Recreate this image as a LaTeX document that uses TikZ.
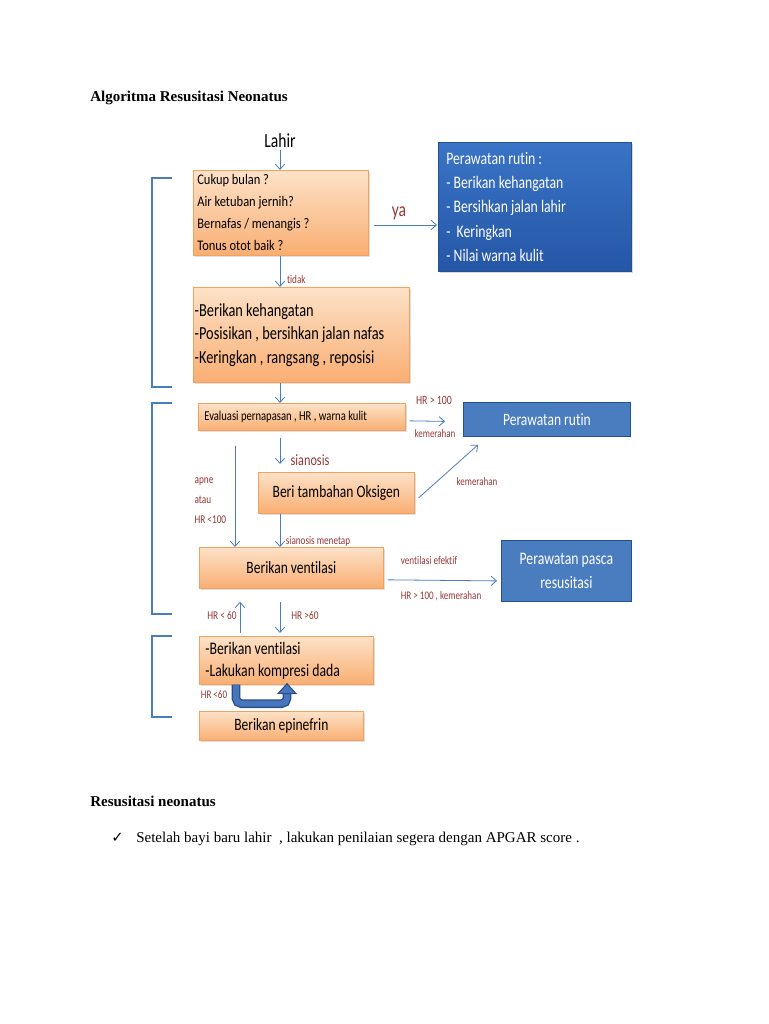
\documentclass[tikz,border=0pt]{standalone}
\usepackage{fontspec}
\setmainfont{Carlito}
\newfontfamily\cf[FakeStretch=0.78,RawFeature={-liga}]{Carlito}
\newfontfamily\cfb[FakeStretch=0.85,RawFeature={-liga}]{Carlito}
\newfontfamily\tnr{Liberation Serif}
\newfontfamily\dvs{DejaVu Sans}
\usetikzlibrary{arrows.meta,shadows,calc}
\definecolor{otop}{HTML}{FDE2C8}
\definecolor{obot}{HTML}{F9AE72}
\definecolor{obord}{HTML}{F5A05C}
\definecolor{btop}{HTML}{3A74C6}
\definecolor{bbot}{HTML}{2556A6}
\definecolor{bbord}{HTML}{24518F}
\definecolor{bfill}{HTML}{4A7CC0}
\definecolor{lred}{HTML}{953735}
\definecolor{ablue}{HTML}{4A7EBB}
\definecolor{udark}{HTML}{2A4F86}
\definecolor{ulight}{HTML}{4576BE}
\newcommand\fsz[2]{\fontsize{#1}{#2}\selectfont}
\newcommand\natsp{\spaceskip=0pt\xspaceskip=0pt\relax}
\begin{document}
\begin{tikzpicture}[x=0.75pt,y=-0.75pt,
  obox/.style={draw=obord, line width=0.5pt, top color=otop, bottom color=obot, inner ysep=0pt,
     drop shadow={opacity=0.25, shadow xshift=1.2pt, shadow yshift=-1.5pt}, anchor=north west, text=black},
  bigblue/.style={draw=bbord, line width=0.5pt, top color=btop, bottom color=bbot, text=white, anchor=north west,
     drop shadow={opacity=0.3, shadow xshift=1.2pt, shadow yshift=-1.5pt}},
  flatblue/.style={draw=bbord, line width=0.6pt, fill=bfill, text=white, anchor=north west},
  arr/.style={draw=ablue, line width=0.6pt, -{Straight Barb[length=4pt,width=7pt]}},
  lbl/.style={text=lred, inner sep=1pt},
  brk/.style={draw=ablue, line width=0.9pt}]
\path[use as bounding box] (0,0) rectangle (768,1024);

% page texts
\node[anchor=base west, inner sep=0, font=\tnr\bfseries\fsz{11.25}{13}] (title) at (90,101) {Algoritma Resusitasi Neonatus};
\node[anchor=base west, inner sep=0, font=\tnr\bfseries\fsz{11.25}{13}] (sub) at (90,806) {Resusitasi neonatus};
\node[anchor=base west, inner sep=0, font=\dvs\fsz{11}{13}] (chk) at (111,842) {✓};
\node[anchor=base west, inner sep=0, font=\tnr\fsz{11.25}{13}] (sent) at (136,842) {Setelah bayi baru lahir~ , lakukan penilaian segera dengan APGAR score .};

% diagram nodes
\node[font=\cf\fsz{15}{18}, inner sep=1pt] (L) at (280,141) {Lahir};
\node[obox, font=\cfb\fsz{11}{16.5}, text width=125.25pt, minimum height=0.75*85pt, align=left, inner xsep=3pt] (b1) at (193,170)
  {\natsp Cukup bulan ?\\Air ketuban jernih?\\Bernafas / menangis ?\\Tonus otot baik ?};
\node[bigblue, font=\cf\fsz{13.2}{18.2}, text width=132.75pt, minimum height=0.75*129pt, align=left, inner xsep=6pt] (bb1) at (438,142)
  {\natsp Perawatan rutin :\\- Berikan kehangatan\\- Bersihkan jalan lahir\\-~ Keringkan\\- Nilai warna kulit};
\node[obox, font=\cf\fsz{13.8}{17.6}, text width=159.75pt, minimum height=0.75*95pt, align=left, inner xsep=1pt] (b2) at (193,287)
  {\natsp -Berikan kehangatan\\-Posisikan , bersihkan jalan nafas\\-Keringkan , rangsang , reposisi};
\node[obox, font=\cf\fsz{10.2}{11}, text width=146.25pt, minimum height=0.75*27pt, align=left, inner xsep=4.5pt] (b3) at (198,403)
  {\natsp Evaluasi pernapasan , HR , warna kulit};
\node[flatblue, font=\cf\fsz{13}{15}, minimum width=0.75*167pt, minimum height=0.75*34pt] (rutin) at (463,402) {Perawatan rutin};
\node[obox, font=\cf\fsz{13}{15}, minimum width=0.75*156pt, minimum height=0.75*41pt] (b4) at (258,472) {Beri tambahan Oksigen};
\node[obox, font=\cf\fsz{13}{15}, minimum width=0.75*184pt, minimum height=0.75*41pt] (b5) at (199,547) {Berikan ventilasi};
\node[flatblue, font=\cf\fsz{13.2}{18}, minimum width=0.75*130pt, minimum height=0.75*61pt, align=center] (pasca) at (501,540) {Perawatan pasca\\resusitasi};
\node[obox, font=\cf\fsz{13.2}{16.5}, text width=121.5pt, minimum height=0.75*48pt, align=left, inner xsep=4.5pt] (b6) at (199,636)
  {\natsp -Berikan ventilasi\\-Lakukan kompresi dada};
\node[obox, font=\cf\fsz{13}{15}, minimum width=0.75*164pt, minimum height=0.75*29pt] (b7) at (199,711) {Berikan epinefrin};

% column coordinate
\coordinate (cx) at (280,0);

% connectors
\draw[arr] (L.south) -- (L.south |- b1.north);
\draw[arr] ($(b1.north east)+(5,55)$) -- node[lbl, pos=0.4, above=3pt, font=\cf\fsz{15}{17}] (ya) {ya} ($(bb1.north west)+(-1,83)$);
\draw[arr] (cx |- b1.south) -- node[lbl, pos=0.75, right=4pt, font=\cf\fsz{8.8}{10}] (tidak) {tidak} (cx |- b2.north);
\draw[arr] (cx |- b2.south) -- (cx |- b3.north);
\draw[arr] ($(b3.east)+(4,4)$) -- ($(rutin.west)+(-18,2)$);
\node[lbl, font=\cf\fsz{9.5}{11}] (hr100) at (434,400) {HR > 100};
\node[lbl, font=\cf\fsz{8.6}{10}] (kem1) at (435,434) {kemerahan};
\draw[arr] ($(cx |- b3.south)+(0,7)$) -- ($(cx |- b4.north)+(0,-8)$);
\node[lbl, font=\cf\fsz{11.8}{13}] (sian) at (310,460) {sianosis};
\draw[arr] ($(b4.east)+(4,5)$) -- ($(rutin.south west)+(15,8)$);
\node[lbl, font=\cf\fsz{8.6}{10}] (kem2) at (477,482) {kemerahan};
\draw[arr] ($(b3.south west)+(37,15)$) -- ($(b5.north west)+(36,0)$);
\node[lbl, anchor=west, align=left, font=\cf\fsz{8.9}{15}] (apne) at (193,501) {apne\\atau\\HR <100};
\draw[arr] (cx |- b4.south) -- (cx |- b5.north);
\node[lbl, font=\cf\fsz{8.8}{10}] (smen) at (318,541) {sianosis menetap};
\draw[arr] ($(b5.east)+(4,12)$) -- ($(pasca.west)+(-4,10)$);
\node[lbl, font=\cf\fsz{8.8}{10}] (vef) at (429,560) {ventilasi efektif};
\node[lbl, font=\cf\fsz{8.7}{10}] (hrk) at (441,596) {HR > 100 , kemerahan};
\draw[arr] ($(b6.north west)+(41,-3)$) -- ($(b5.south west)+(41,13)$);
\node[lbl, font=\cf\fsz{9}{10}] (hr60a) at (222,615) {HR < 60};
\draw[arr] ($(cx |- b5.south)+(0,13)$) -- ($(cx |- b6.north)+(0,-3)$);
\node[lbl, font=\cf\fsz{9}{10}] (hr60b) at (305,615) {HR >60};

% thick U arrow
\coordinate (ua) at ($(b6.south west)+(37,0)$);
\coordinate (ub) at ($(b6.south west)+(88,3)$);
\draw[udark, line width=6.5pt, rounded corners=4pt] (ua) -- ($(ua)+(0,19)$) -- ($(ub)+(0,16)$) -- ($(ub)+(0,4)$);
\draw[ulight, line width=4.5pt, rounded corners=4pt] (ua) -- ($(ua)+(0,19)$) -- ($(ub)+(0,16)$) -- ($(ub)+(0,4)$);
\fill[ulight, draw=udark, line width=0.8pt] ($(ub)+(-9,6)$) -- ($(ub)+(0,-4)$) -- ($(ub)+(9,6)$) -- cycle;
\node[lbl, font=\cf\fsz{8.7}{10}] (hr60c) at (214,695) {HR <60};

% brackets
\draw[brk] (172,178) -- (152,178) -- (152,387) -- (172,387);
\draw[brk] (172,403) -- (152,403) -- (152,614) -- (172,614);
\draw[brk] (172,636) -- (152,636) -- (152,717) -- (172,717);
\end{tikzpicture}
\end{document}
